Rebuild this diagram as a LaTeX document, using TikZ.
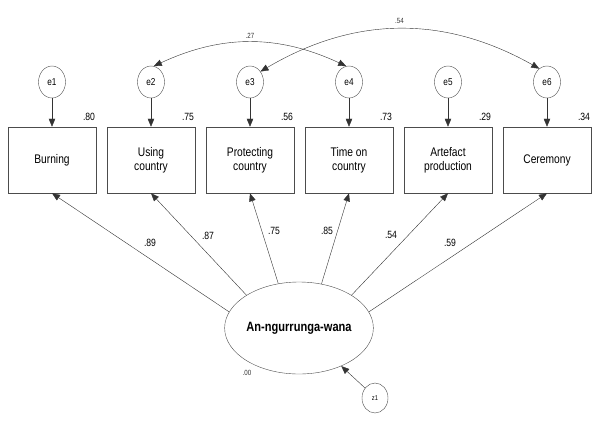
\documentclass[tikz,border=0pt]{standalone}
\usepackage{fontspec}
\setmainfont[FakeStretch=0.82]{Liberation Sans}
\usetikzlibrary{arrows.meta,shapes.geometric}

\begin{document}
\begin{tikzpicture}[x=1pt,y=-1pt,
    obs/.style={draw=black!70,line width=0.5pt,minimum width=88pt,minimum height=66pt,
      align=center,inner sep=1pt,font=\fontsize{12.5}{14}\selectfont},
    err/.style={ellipse,draw=black!70,line width=0.4pt,minimum width=27pt,minimum height=32pt,
      inner sep=0pt,font=\fontsize{10}{11}\selectfont},
    est/.style={inner sep=0pt,font=\fontsize{10.5}{12}\selectfont},
    tiny/.style={inner sep=0pt,font=\fontsize{7.5}{9}\selectfont,text=black!80},
    arr/.style={draw=black!80,line width=0.4pt,-{Triangle[length=8pt,width=6.5pt]}},
    cov/.style={draw=black!80,line width=0.4pt,{Triangle[length=8pt,width=6.5pt]}-{Triangle[length=8pt,width=6.5pt]}}]
  \useasboundingbox (0,0) rectangle (600,426);
  \def\boxy{160}
  \def\erry{82}
  % latent factor and its disturbance
  \node[ellipse,draw=black!70,line width=0.4pt,minimum width=146pt,minimum height=92pt,inner sep=0pt,
    font=\bfseries\fontsize{13.5}{15}\selectfont] (f) at (299,328) {An-ngurrunga-wana};
  \node[tiny] (fr) at (247,373) {.00};
  \node[err,minimum width=26pt,minimum height=30pt,font=\fontsize{7}{8}\selectfont] (z1) at (375,398) {z1};
  \draw[arr] (z1.135) -- (f.-42);
  % indicators with error terms
  \foreach \i/\x/\txt/\r in {1/52/Burning/.80,
      2/151/{Using\\country}/.75,
      3/250/{Protecting\\country}/.56,
      4/349/{Time on\\country}/.73,
      5/448/{Artefact\\production}/.29,
      6/547/Ceremony/.34}{%
    \node[obs] (v\i) at (\x,\boxy) {\txt};
    \node[err] (e\i) at (\x,\erry) {e\i};
    \node[est] (r\i) at (\x+37,117) {\r};
    \draw[arr] (e\i) -- (v\i);
  }
  % loadings
  \foreach \i/\a/\lx/\ly/\l in {1/167/150/243/.89,
      2/148/208/236/.87,
      3/115/274/231/.75,
      4/63/327/231/.85,
      5/32/391/235/.54,
      6/13/450/243/.59}{%
    \draw[arr] (f.\a) -- (v\i.south);
    \node[est] (l\i) at (\lx,\ly) {\l};
  }
  % correlated errors
  \draw[cov] (e2.80) to[bend left=25] node[tiny,midway,above=4pt] (c24) {.27} (e4.100);
  \draw[cov] (e3.45) to[bend left=30] node[tiny,midway,above=5pt] (c36) {.54} (e6.120);
\end{tikzpicture}
\end{document}
